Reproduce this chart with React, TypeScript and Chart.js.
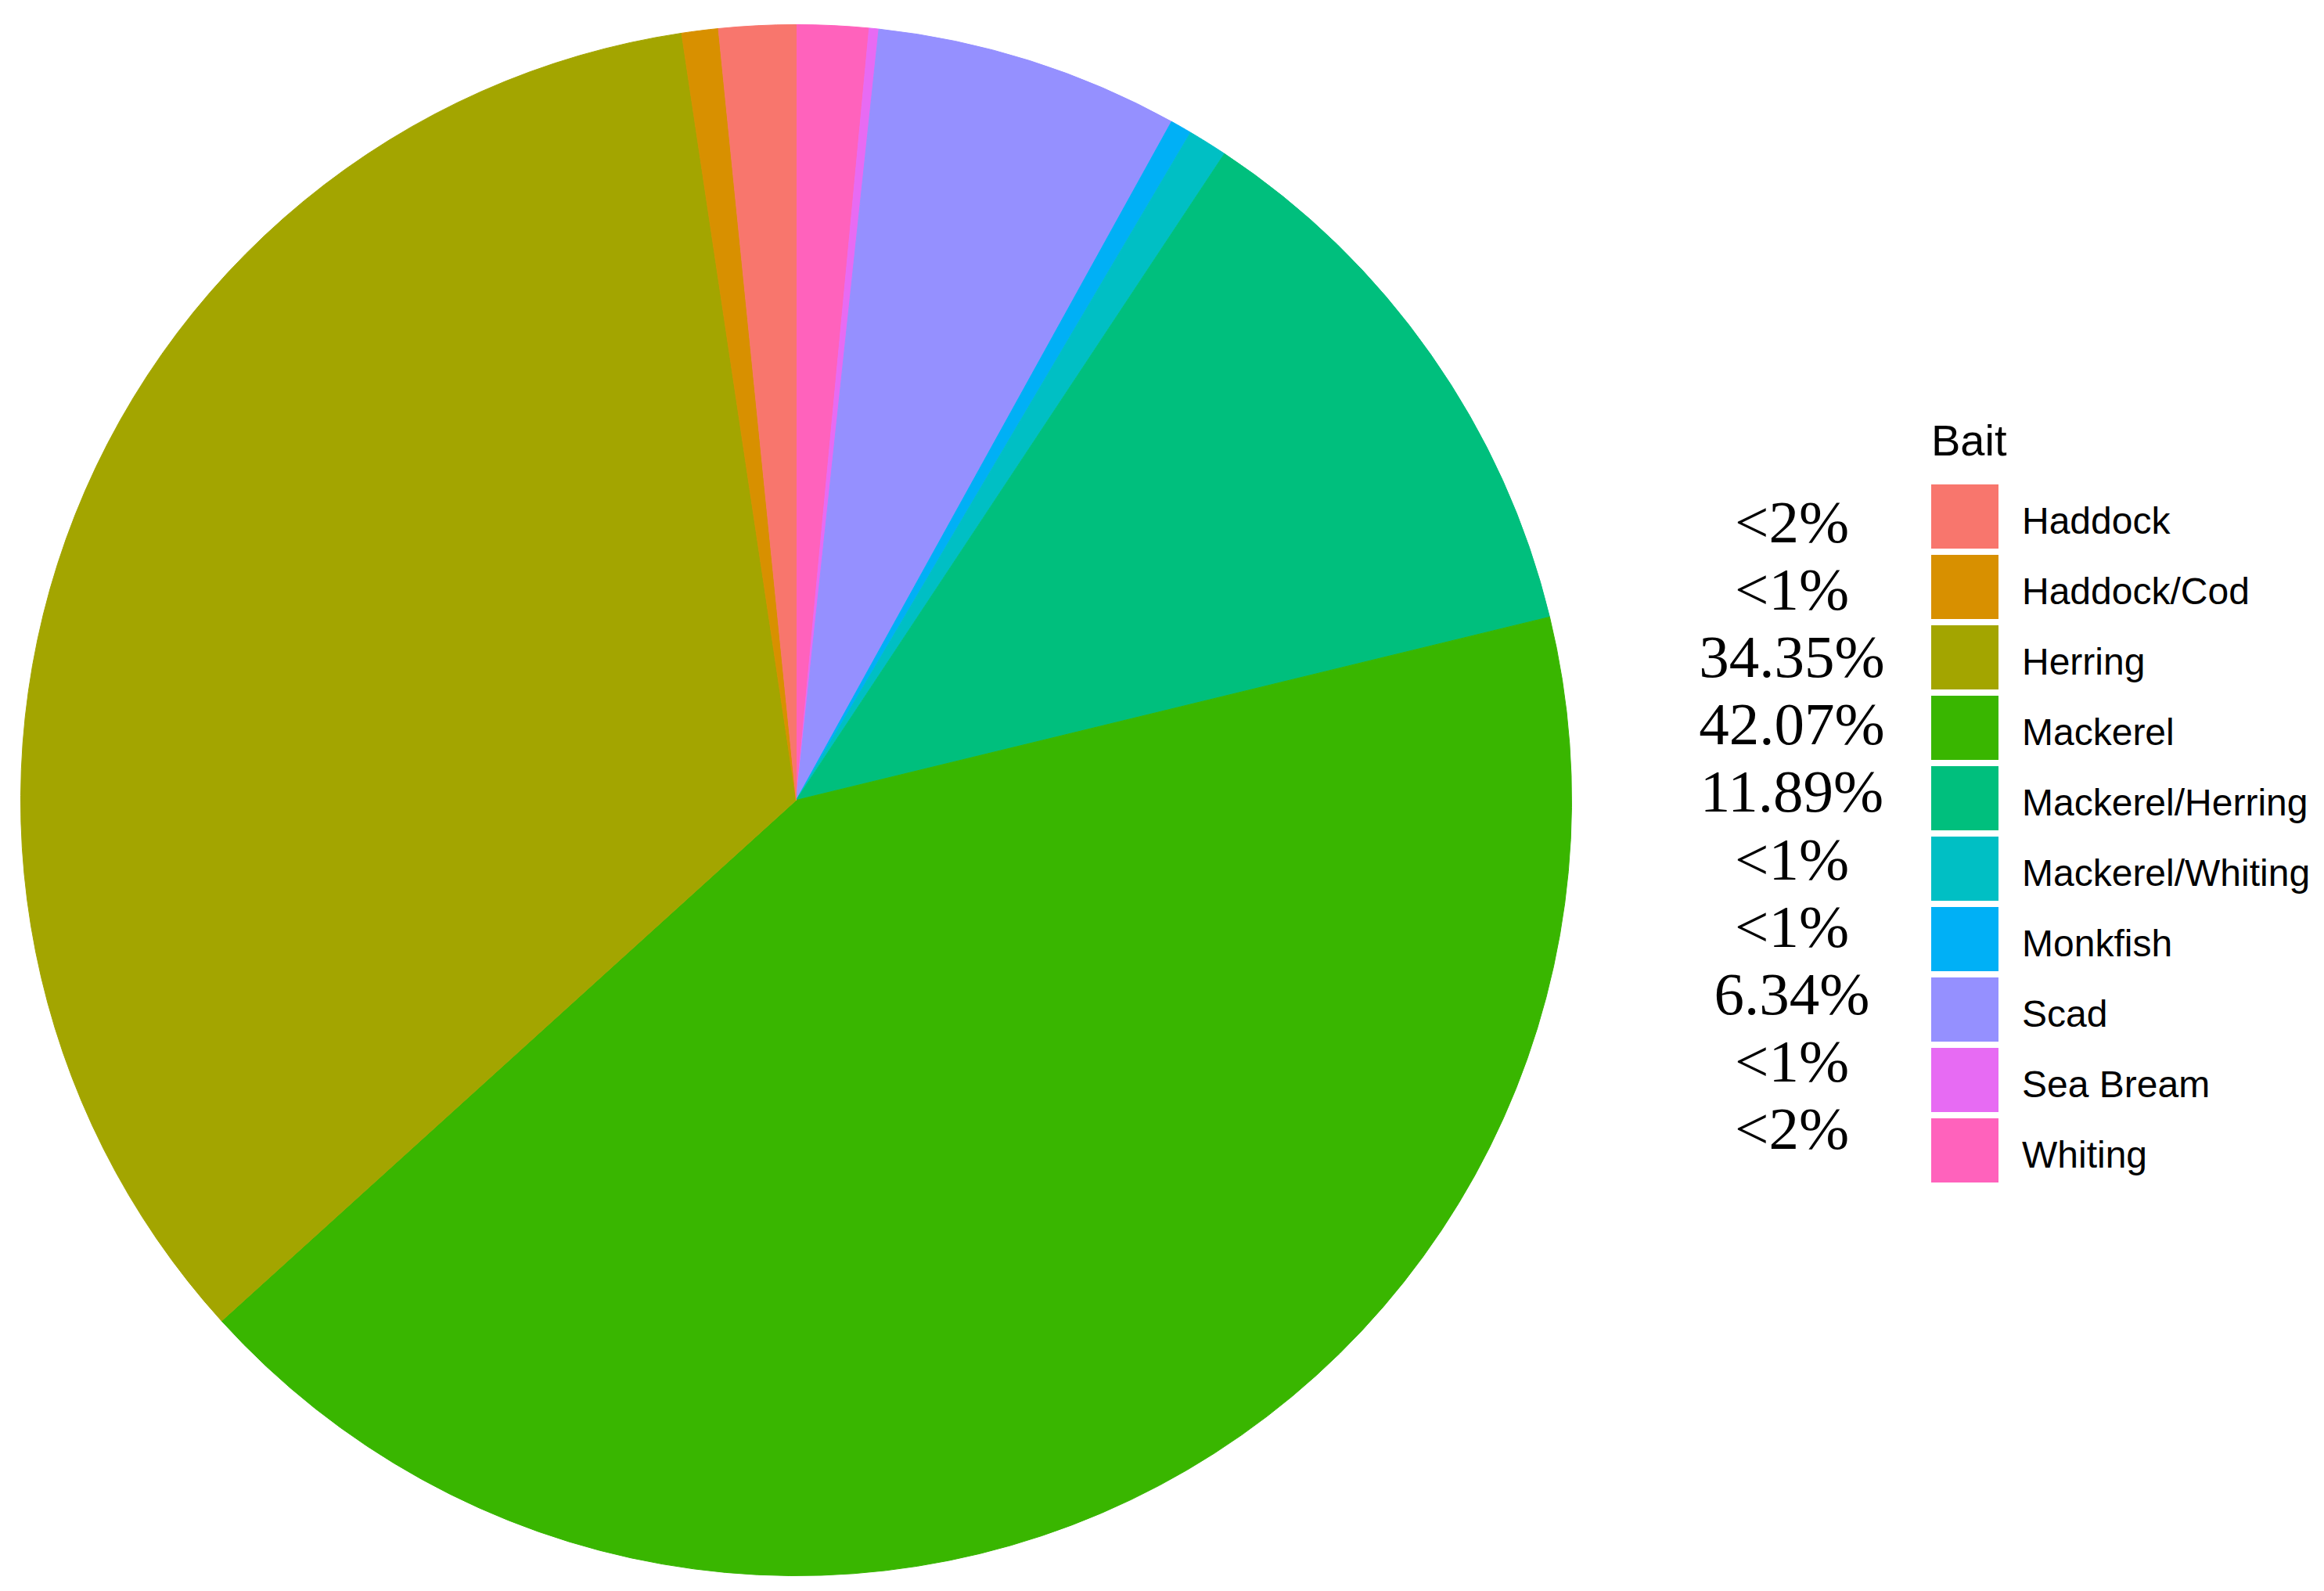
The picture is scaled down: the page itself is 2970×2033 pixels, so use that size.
import React, { useEffect, useRef } from "react";
import { Chart, registerables } from "chart.js";

Chart.register(...registerables);

// ---- Data (legend order) ----
const categories = [
  "Haddock",
  "Haddock/Cod",
  "Herring",
  "Mackerel",
  "Mackerel/Herring",
  "Mackerel/Whiting",
  "Monkfish",
  "Scad",
  "Sea Bream",
  "Whiting",
];
const shares = [1.6, 0.76, 34.35, 42.07, 11.89, 0.82, 0.45, 6.34, 0.2, 1.5];
const percentLabels = ["<2%", "<1%", "34.35%", "42.07%", "11.89%", "<1%", "<1%", "6.34%", "<1%", "<2%"];
const colors = [
  "#F8766D",
  "#D89000",
  "#A3A500",
  "#39B600",
  "#00BF7D",
  "#00BFC4",
  "#00B0F6",
  "#9590FF",
  "#E76BF3",
  "#FF62BC",
];
const legendTitle = "Bait";

// ---- Layout ----
const PIE_LEFT = 26;
const PIE_TOP = 31;
const PIE_SIZE = 1983;

const KEY_LEFT = 2468;
const KEY_TOP = 619;
const KEY_W = 86;
const KEY_H = 82;
const KEY_STEP = 90;
const LABEL_LEFT = 2584;

const PCT_CENTER_X = 2290;
const PCT_FIRST_Y = 667;
const PCT_STEP = 86.2;

export default function App() {
  const canvasRef = useRef<HTMLCanvasElement | null>(null);

  useEffect(() => {
    if (!canvasRef.current) return;
    // ggplot polar order: clockwise from 12 o'clock runs from last category to first
    const labelsCw = [...categories].reverse();
    const dataCw = [...shares].reverse();
    const colorsCw = [...colors].reverse();
    const chart = new Chart(canvasRef.current, {
      type: "pie",
      data: {
        labels: labelsCw,
        datasets: [
          {
            data: dataCw,
            backgroundColor: colorsCw,
            borderColor: colorsCw,
            borderWidth: 1,
          },
        ],
      },
      options: {
        animation: false,
        responsive: false,
        devicePixelRatio: 1,
        rotation: 0,
        layout: { padding: 0 },
        plugins: {
          legend: { display: false },
          tooltip: { enabled: false },
          title: { display: false },
        },
      },
    });
    return () => chart.destroy();
  }, []);

  return (
    <div
      style={{
        position: "absolute",
        left: 0,
        top: 0,
        width: 2970,
        height: 2033,
        background: "#ffffff",
        overflow: "hidden",
      }}
    >
      <canvas
        ref={canvasRef}
        width={PIE_SIZE}
        height={PIE_SIZE}
        style={{ position: "absolute", left: PIE_LEFT, top: PIE_TOP, width: PIE_SIZE, height: PIE_SIZE }}
      />

      {/* Percent labels */}
      {percentLabels.map((p, i) => (
        <div
          key={"p" + i}
          style={{
            position: "absolute",
            left: PCT_CENTER_X - 200,
            width: 400,
            top: PCT_FIRST_Y + i * PCT_STEP - 38.5,
            height: 77,
            lineHeight: "77px",
            fontSize: 77,
            fontFamily: "'Liberation Serif', 'Times New Roman', serif",
            textAlign: "center",
            color: "#000",
            whiteSpace: "nowrap",
          }}
        >
          {p}
        </div>
      ))}

      {/* Legend title */}
      <div
        style={{
          position: "absolute",
          left: KEY_LEFT,
          top: 535,
          fontSize: 56,
          lineHeight: "56px",
          fontFamily: "'Liberation Sans', Arial, sans-serif",
          color: "#000",
        }}
      >
        {legendTitle}
      </div>

      {/* Legend keys and labels */}
      {categories.map((c, i) => (
        <React.Fragment key={c}>
          <div
            style={{
              position: "absolute",
              left: KEY_LEFT,
              top: KEY_TOP + i * KEY_STEP,
              width: KEY_W,
              height: KEY_H,
              background: colors[i],
            }}
          />
          <div
            style={{
              position: "absolute",
              left: LABEL_LEFT,
              top: KEY_TOP + i * KEY_STEP + KEY_H / 2 + 6 - 24,
              height: 48,
              lineHeight: "48px",
              fontSize: 48,
              fontFamily: "'Liberation Sans', Arial, sans-serif",
              color: "#000",
              whiteSpace: "nowrap",
            }}
          >
            {c}
          </div>
        </React.Fragment>
      ))}
    </div>
  );
}
